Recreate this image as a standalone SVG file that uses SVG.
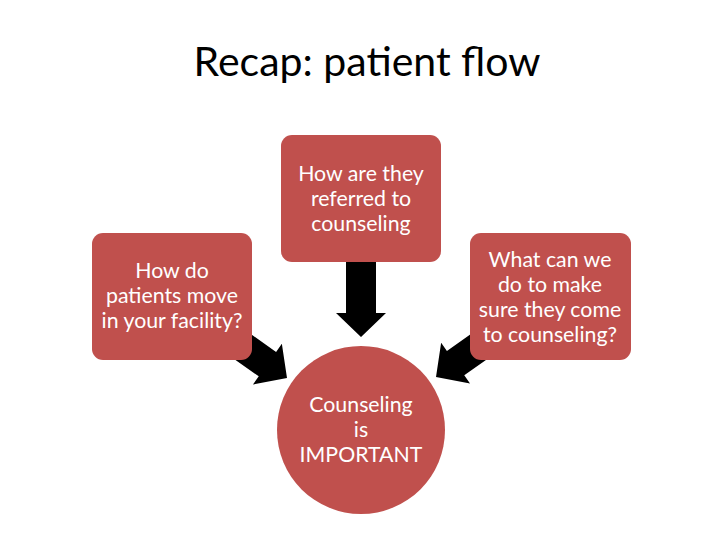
<svg xmlns="http://www.w3.org/2000/svg" width="720" height="540" viewBox="0 0 720 540">
<style>
.node{fill:#C0504D;}
.lbl{font-family:Lato,"Liberation Sans",sans-serif;font-size:21.3px;fill:#FFFFFF;text-anchor:middle;}
.title{font-family:Lato,"Liberation Sans",sans-serif;font-size:41px;fill:#000000;text-anchor:middle;}
.arr{fill:#000000;}
</style>
<defs>
<path id="arrowShape" d="M0,-15 L51,-15 L51,-25 L75,0 L51,25 L51,15 L0,15 Z"/>
</defs>
<rect width="720" height="540" fill="#FFFFFF"/>
<text class="title" x="367" y="76">Recap: patient flow</text>
<g id="connectors">
<use href="#arrowShape" class="arr" transform="translate(361,337) rotate(90) translate(-75,0)"/>
<use href="#arrowShape" class="arr" transform="translate(287,378) rotate(35.3) translate(-75,0)"/>
<use href="#arrowShape" class="arr" transform="translate(436,377) rotate(144.7) translate(-75,0)"/>
</g>
<g id="node-top">
<rect class="node" x="281" y="135" width="160" height="127" rx="11"/>
<text class="lbl" x="361" y="181">How are they</text>
<text class="lbl" x="361" y="206">referred to</text>
<text class="lbl" x="361" y="231">counseling</text>
</g>
<g id="node-left">
<rect class="node" x="92" y="233" width="160" height="127" rx="11"/>
<text class="lbl" x="172" y="278">How do</text>
<text class="lbl" x="172" y="303">patients move</text>
<text class="lbl" x="172" y="328">in your facility?</text>
</g>
<g id="node-right">
<rect class="node" x="470" y="233" width="161" height="127" rx="11"/>
<text class="lbl" x="550" y="267">What can we</text>
<text class="lbl" x="550" y="292">do to make</text>
<text class="lbl" x="550" y="317">sure they come</text>
<text class="lbl" x="550" y="342">to counseling?</text>
</g>
<g id="node-center">
<circle class="node" cx="361" cy="430" r="84"/>
<text class="lbl" x="361" y="412">Counseling</text>
<text class="lbl" x="361" y="437">is</text>
<text class="lbl" x="361" y="462">IMPORTANT</text>
</g>
</svg>
